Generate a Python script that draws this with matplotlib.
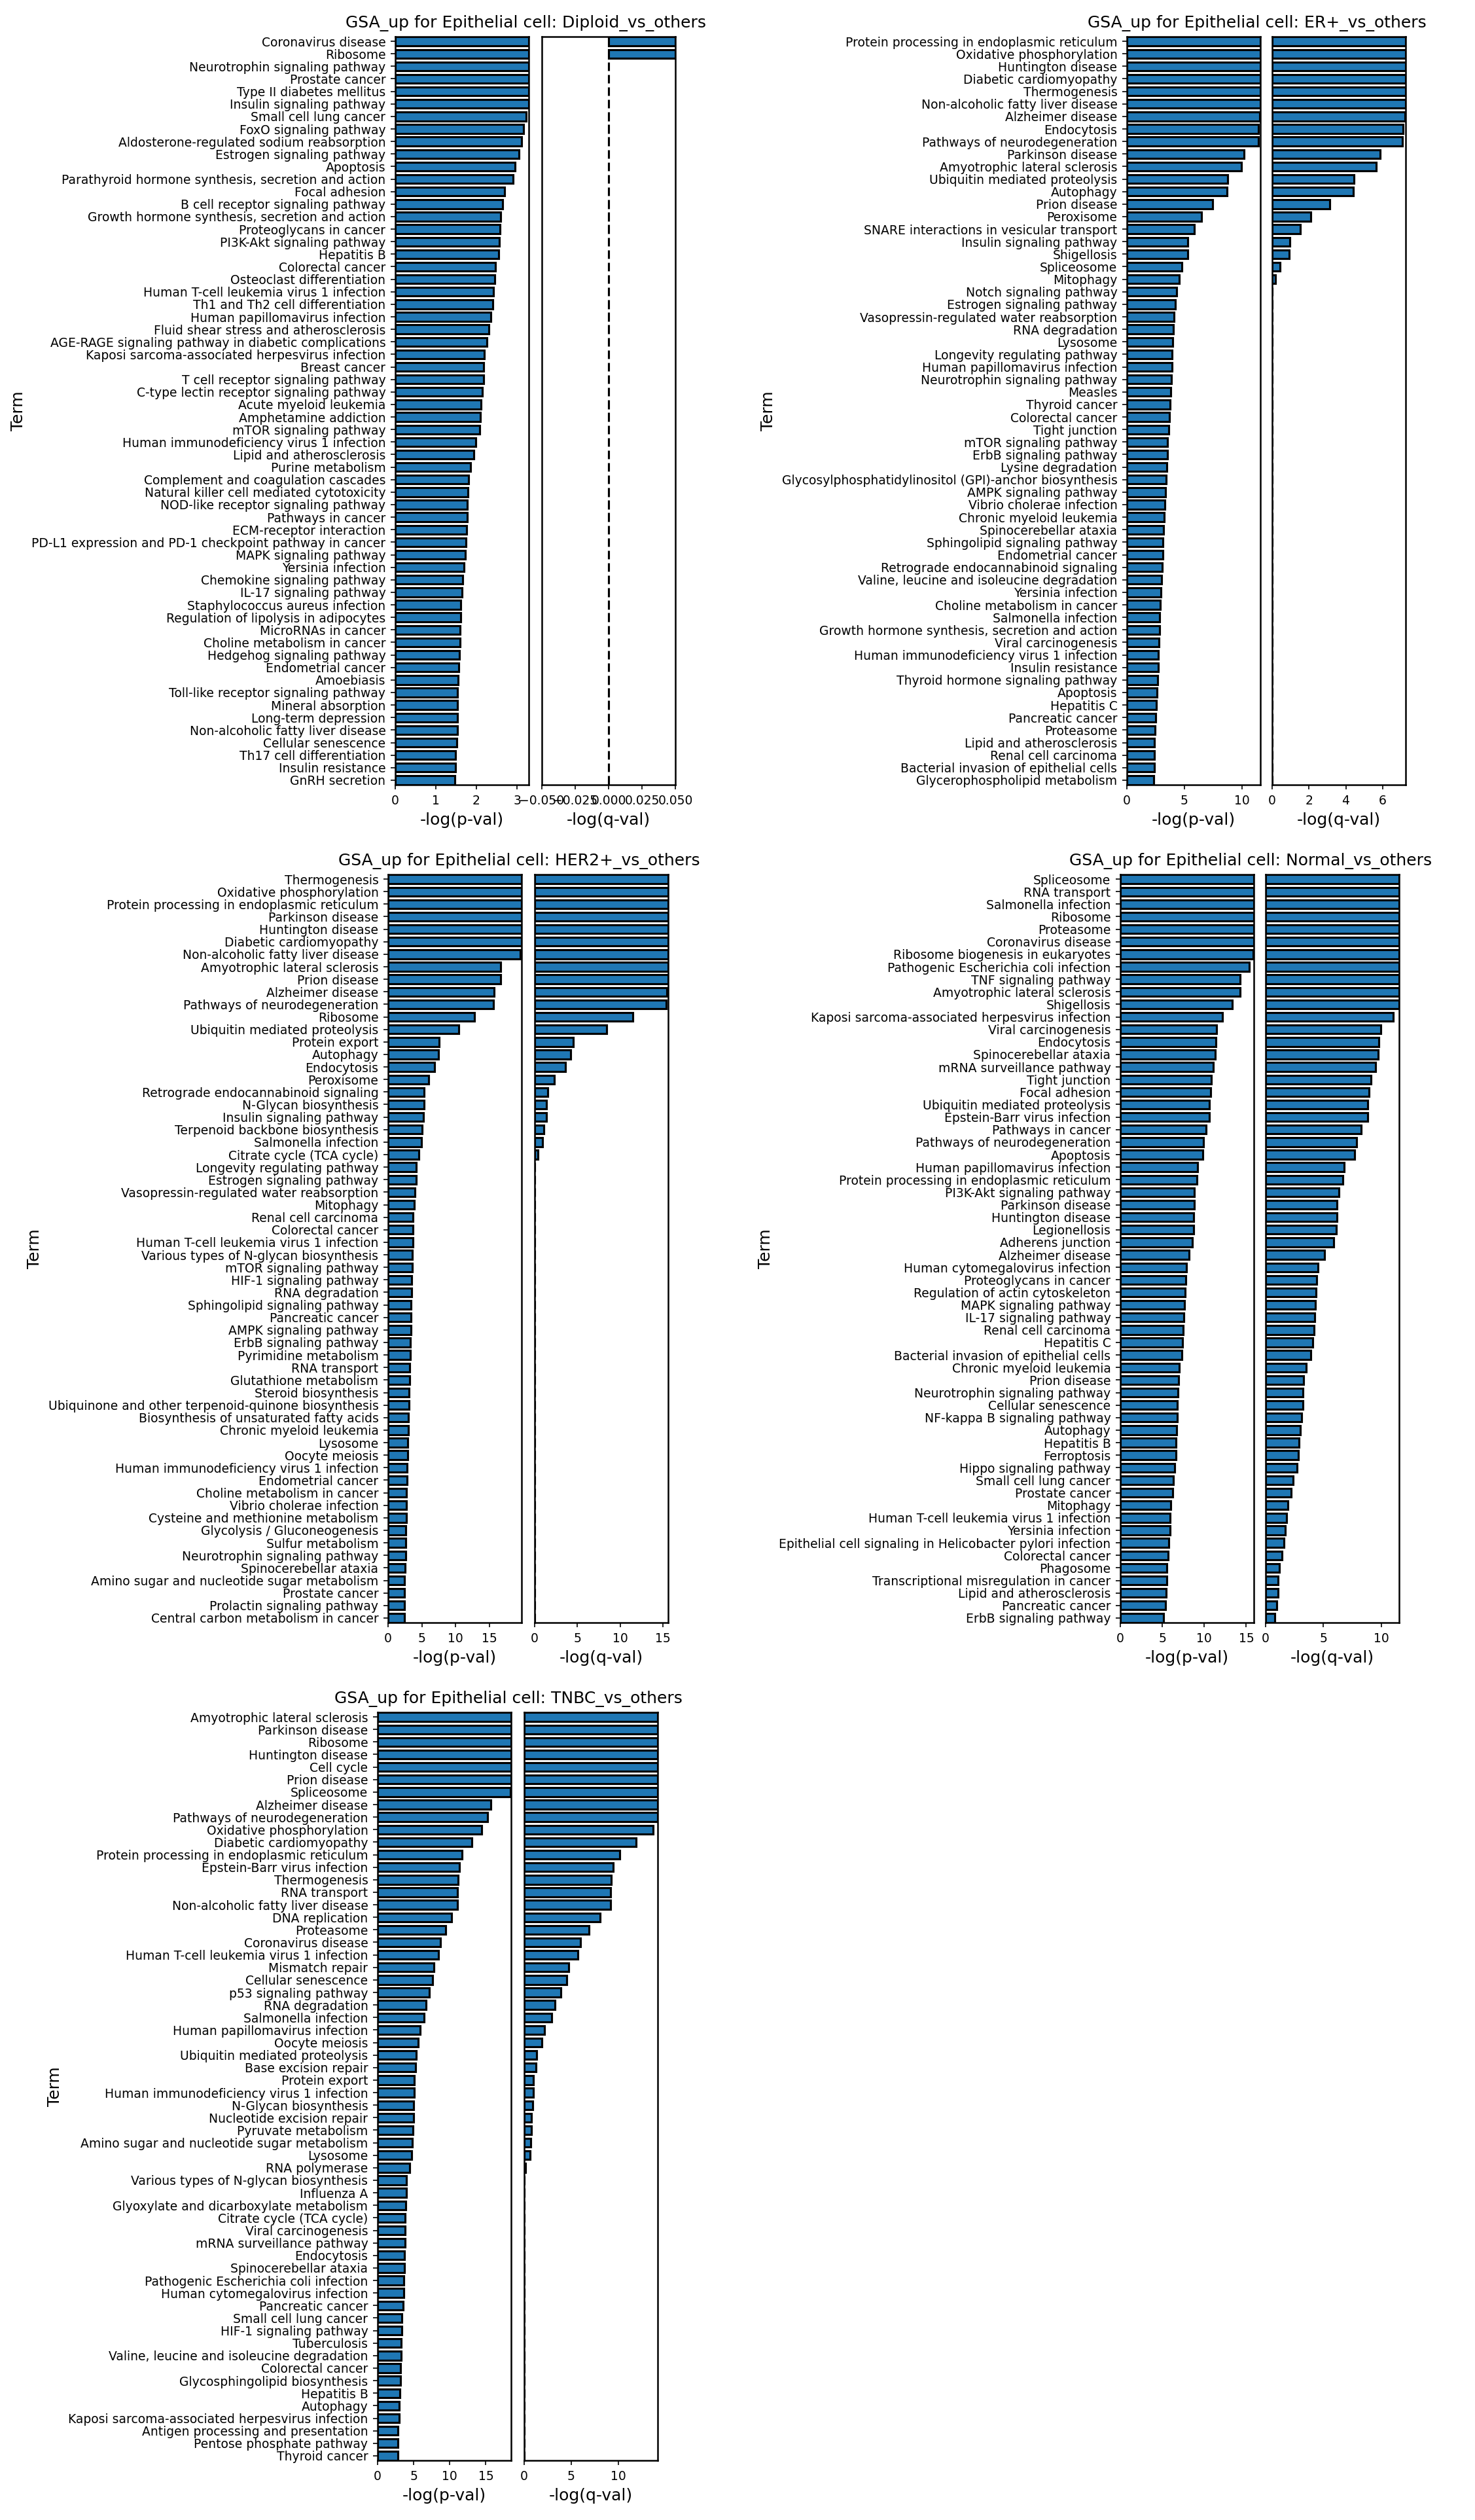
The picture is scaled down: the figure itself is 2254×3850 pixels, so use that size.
import matplotlib
matplotlib.use('Agg')
import matplotlib.pyplot as plt

W, H, DPI = 2254, 3850, 150

# ---------------- data ----------------
diploid_terms = [
    'Coronavirus disease', 'Ribosome', 'Neurotrophin signaling pathway', 'Prostate cancer',
    'Type II diabetes mellitus', 'Insulin signaling pathway', 'Small cell lung cancer',
    'FoxO signaling pathway', 'Aldosterone-regulated sodium reabsorption', 'Estrogen signaling pathway',
    'Apoptosis', 'Parathyroid hormone synthesis, secretion and action', 'Focal adhesion',
    'B cell receptor signaling pathway', 'Growth hormone synthesis, secretion and action',
    'Proteoglycans in cancer', 'PI3K-Akt signaling pathway', 'Hepatitis B', 'Colorectal cancer',
    'Osteoclast differentiation', 'Human T-cell leukemia virus 1 infection',
    'Th1 and Th2 cell differentiation', 'Human papillomavirus infection',
    'Fluid shear stress and atherosclerosis', 'AGE-RAGE signaling pathway in diabetic complications',
    'Kaposi sarcoma-associated herpesvirus infection', 'Breast cancer',
    'T cell receptor signaling pathway', 'C-type lectin receptor signaling pathway',
    'Acute myeloid leukemia', 'Amphetamine addiction', 'mTOR signaling pathway',
    'Human immunodeficiency virus 1 infection', 'Lipid and atherosclerosis', 'Purine metabolism',
    'Complement and coagulation cascades', 'Natural killer cell mediated cytotoxicity',
    'NOD-like receptor signaling pathway', 'Pathways in cancer', 'ECM-receptor interaction',
    'PD-L1 expression and PD-1 checkpoint pathway in cancer', 'MAPK signaling pathway',
    'Yersinia infection', 'Chemokine signaling pathway', 'IL-17 signaling pathway',
    'Staphylococcus aureus infection', 'Regulation of lipolysis in adipocytes', 'MicroRNAs in cancer',
    'Choline metabolism in cancer', 'Hedgehog signaling pathway', 'Endometrial cancer', 'Amoebiasis',
    'Toll-like receptor signaling pathway', 'Mineral absorption', 'Long-term depression',
    'Non-alcoholic fatty liver disease', 'Cellular senescence', 'Th17 cell differentiation',
    'Insulin resistance', 'GnRH secretion']
diploid_p = [3.29, 3.29, 3.29, 3.29, 3.29, 3.29, 3.23, 3.16, 3.12, 3.05,
             2.95, 2.91, 2.69, 2.65, 2.6, 2.58, 2.56, 2.55, 2.47, 2.45,
             2.42, 2.4, 2.35, 2.3, 2.25, 2.2, 2.18, 2.17, 2.15, 2.12,
             2.1, 2.08, 1.98, 1.93, 1.85, 1.8, 1.79, 1.78, 1.77, 1.76,
             1.74, 1.72, 1.7, 1.66, 1.64, 1.62, 1.61, 1.6, 1.59, 1.58,
             1.56, 1.55, 1.54, 1.54, 1.53, 1.53, 1.51, 1.49, 1.48, 1.46]
diploid_q = [0.05, 0.05] + [0.0] * 58

er_terms = [
    'Protein processing in endoplasmic reticulum', 'Oxidative phosphorylation', 'Huntington disease',
    'Diabetic cardiomyopathy', 'Thermogenesis', 'Non-alcoholic fatty liver disease', 'Alzheimer disease',
    'Endocytosis', 'Pathways of neurodegeneration', 'Parkinson disease', 'Amyotrophic lateral sclerosis',
    'Ubiquitin mediated proteolysis', 'Autophagy', 'Prion disease', 'Peroxisome',
    'SNARE interactions in vesicular transport', 'Insulin signaling pathway', 'Shigellosis',
    'Spliceosome', 'Mitophagy', 'Notch signaling pathway', 'Estrogen signaling pathway',
    'Vasopressin-regulated water reabsorption', 'RNA degradation', 'Lysosome',
    'Longevity regulating pathway', 'Human papillomavirus infection', 'Neurotrophin signaling pathway',
    'Measles', 'Thyroid cancer', 'Colorectal cancer', 'Tight junction', 'mTOR signaling pathway',
    'ErbB signaling pathway', 'Lysine degradation',
    'Glycosylphosphatidylinositol (GPI)-anchor biosynthesis', 'AMPK signaling pathway',
    'Vibrio cholerae infection', 'Chronic myeloid leukemia', 'Spinocerebellar ataxia',
    'Sphingolipid signaling pathway', 'Endometrial cancer', 'Retrograde endocannabinoid signaling',
    'Valine, leucine and isoleucine degradation', 'Yersinia infection', 'Choline metabolism in cancer',
    'Salmonella infection', 'Growth hormone synthesis, secretion and action', 'Viral carcinogenesis',
    'Human immunodeficiency virus 1 infection', 'Insulin resistance',
    'Thyroid hormone signaling pathway', 'Apoptosis', 'Hepatitis C', 'Pancreatic cancer',
    'Proteasome', 'Lipid and atherosclerosis', 'Renal cell carcinoma',
    'Bacterial invasion of epithelial cells', 'Glycerophospholipid metabolism']
er_p = [11.6, 11.6, 11.6, 11.6, 11.6, 11.6, 11.57, 11.44, 11.44, 10.15,
        9.96, 8.77, 8.72, 7.47, 6.48, 5.86, 5.29, 5.28, 4.79, 4.54,
        4.33, 4.18, 4.12, 4.04, 4.0, 3.95, 3.9, 3.85, 3.8, 3.78,
        3.7, 3.65, 3.55, 3.5, 3.45, 3.4, 3.35, 3.3, 3.25, 3.2,
        3.15, 3.1, 3.05, 3.0, 2.95, 2.9, 2.85, 2.82, 2.8, 2.75,
        2.72, 2.68, 2.62, 2.55, 2.5, 2.45, 2.4, 2.37, 2.37, 2.31]
er_q = [7.25, 7.25, 7.25, 7.25, 7.25, 7.25, 7.22, 7.1, 7.08, 5.87,
        5.65, 4.46, 4.42, 3.14, 2.11, 1.53, 0.95, 0.93, 0.42, 0.17] + [0.0] * 40

her2_terms = [
    'Thermogenesis', 'Oxidative phosphorylation', 'Protein processing in endoplasmic reticulum',
    'Parkinson disease', 'Huntington disease', 'Diabetic cardiomyopathy',
    'Non-alcoholic fatty liver disease', 'Amyotrophic lateral sclerosis', 'Prion disease',
    'Alzheimer disease', 'Pathways of neurodegeneration', 'Ribosome', 'Ubiquitin mediated proteolysis',
    'Protein export', 'Autophagy', 'Endocytosis', 'Peroxisome', 'Retrograde endocannabinoid signaling',
    'N-Glycan biosynthesis', 'Insulin signaling pathway', 'Terpenoid backbone biosynthesis',
    'Salmonella infection', 'Citrate cycle (TCA cycle)', 'Longevity regulating pathway',
    'Estrogen signaling pathway', 'Vasopressin-regulated water reabsorption', 'Mitophagy',
    'Renal cell carcinoma', 'Colorectal cancer', 'Human T-cell leukemia virus 1 infection',
    'Various types of N-glycan biosynthesis', 'mTOR signaling pathway', 'HIF-1 signaling pathway',
    'RNA degradation', 'Sphingolipid signaling pathway', 'Pancreatic cancer', 'AMPK signaling pathway',
    'ErbB signaling pathway', 'Pyrimidine metabolism', 'RNA transport', 'Glutathione metabolism',
    'Steroid biosynthesis', 'Ubiquinone and other terpenoid-quinone biosynthesis',
    'Biosynthesis of unsaturated fatty acids', 'Chronic myeloid leukemia', 'Lysosome', 'Oocyte meiosis',
    'Human immunodeficiency virus 1 infection', 'Endometrial cancer', 'Choline metabolism in cancer',
    'Vibrio cholerae infection', 'Cysteine and methionine metabolism', 'Glycolysis / Gluconeogenesis',
    'Sulfur metabolism', 'Neurotrophin signaling pathway', 'Spinocerebellar ataxia',
    'Amino sugar and nucleotide sugar metabolism', 'Prostate cancer', 'Prolactin signaling pathway',
    'Central carbon metabolism in cancer']
her2_p = [19.8, 19.8, 19.8, 19.8, 19.8, 19.8, 19.57, 16.7, 16.7, 15.76,
          15.67, 12.79, 10.5, 7.6, 7.44, 6.93, 6.0, 5.37, 5.29, 5.2,
          5.06, 4.98, 4.55, 4.21, 4.13, 3.96, 3.88, 3.7, 3.7, 3.65,
          3.6, 3.55, 3.5, 3.45, 3.42, 3.38, 3.35, 3.32, 3.3, 3.25,
          3.2, 3.15, 3.1, 3.05, 3.0, 2.95, 2.9, 2.85, 2.8, 2.75,
          2.72, 2.68, 2.65, 2.6, 2.58, 2.56, 2.47, 2.47, 2.47, 2.47]
her2_q = [15.6] * 9 + [15.48, 15.39, 11.48, 8.43, 4.48, 4.21, 3.59, 2.33, 1.52, 1.34, 1.34,
                       1.08, 0.9, 0.36] + [0.0] * 37

normal_terms = [
    'Spliceosome', 'RNA transport', 'Salmonella infection', 'Ribosome', 'Proteasome',
    'Coronavirus disease', 'Ribosome biogenesis in eukaryotes', 'Pathogenic Escherichia coli infection',
    'TNF signaling pathway', 'Amyotrophic lateral sclerosis', 'Shigellosis',
    'Kaposi sarcoma-associated herpesvirus infection', 'Viral carcinogenesis', 'Endocytosis',
    'Spinocerebellar ataxia', 'mRNA surveillance pathway', 'Tight junction', 'Focal adhesion',
    'Ubiquitin mediated proteolysis', 'Epstein-Barr virus infection', 'Pathways in cancer',
    'Pathways of neurodegeneration', 'Apoptosis', 'Human papillomavirus infection',
    'Protein processing in endoplasmic reticulum', 'PI3K-Akt signaling pathway', 'Parkinson disease',
    'Huntington disease', 'Legionellosis', 'Adherens junction', 'Alzheimer disease',
    'Human cytomegalovirus infection', 'Proteoglycans in cancer', 'Regulation of actin cytoskeleton',
    'MAPK signaling pathway', 'IL-17 signaling pathway', 'Renal cell carcinoma', 'Hepatitis C',
    'Bacterial invasion of epithelial cells', 'Chronic myeloid leukemia', 'Prion disease',
    'Neurotrophin signaling pathway', 'Cellular senescence', 'NF-kappa B signaling pathway',
    'Autophagy', 'Hepatitis B', 'Ferroptosis', 'Hippo signaling pathway', 'Small cell lung cancer',
    'Prostate cancer', 'Mitophagy', 'Human T-cell leukemia virus 1 infection', 'Yersinia infection',
    'Epithelial cell signaling in Helicobacter pylori infection', 'Colorectal cancer', 'Phagosome',
    'Transcriptional misregulation in cancer', 'Lipid and atherosclerosis', 'Pancreatic cancer',
    'ErbB signaling pathway']
normal_p = [15.9, 15.9, 15.9, 15.9, 15.9, 15.9, 15.84, 15.32, 14.3, 14.3,
            13.34, 12.18, 11.43, 11.36, 11.3, 11.09, 10.82, 10.75, 10.61, 10.61,
            10.2, 9.93, 9.8, 9.18, 9.11, 8.84, 8.77, 8.7, 8.7, 8.6,
            8.2, 7.9, 7.8, 7.7, 7.6, 7.55, 7.5, 7.4, 7.3, 7.0,
            6.9, 6.85, 6.8, 6.75, 6.7, 6.65, 6.6, 6.5, 6.3, 6.2,
            6.0, 5.95, 5.9, 5.8, 5.7, 5.52, 5.52, 5.45, 5.37, 5.18]
normal_q = [11.54] * 11 + [11.05, 9.94, 9.8, 9.73, 9.52, 9.1, 8.96, 8.82, 8.82,
                           8.27, 7.85, 7.71, 6.8, 6.66, 6.32, 6.18, 6.18, 6.1, 5.9,
                           5.1, 4.5, 4.4, 4.35, 4.3, 4.25, 4.2, 4.1, 3.9, 3.5,
                           3.3, 3.25, 3.2, 3.1, 3.0, 2.9, 2.85, 2.7, 2.4, 2.2,
                           1.9, 1.8, 1.7, 1.6, 1.4, 1.18, 1.1, 1.06, 0.97, 0.82]

tnbc_terms = [
    'Amyotrophic lateral sclerosis', 'Parkinson disease', 'Ribosome', 'Huntington disease', 'Cell cycle',
    'Prion disease', 'Spliceosome', 'Alzheimer disease', 'Pathways of neurodegeneration',
    'Oxidative phosphorylation', 'Diabetic cardiomyopathy', 'Protein processing in endoplasmic reticulum',
    'Epstein-Barr virus infection', 'Thermogenesis', 'RNA transport', 'Non-alcoholic fatty liver disease',
    'DNA replication', 'Proteasome', 'Coronavirus disease', 'Human T-cell leukemia virus 1 infection',
    'Mismatch repair', 'Cellular senescence', 'p53 signaling pathway', 'RNA degradation',
    'Salmonella infection', 'Human papillomavirus infection', 'Oocyte meiosis',
    'Ubiquitin mediated proteolysis', 'Base excision repair', 'Protein export',
    'Human immunodeficiency virus 1 infection', 'N-Glycan biosynthesis', 'Nucleotide excision repair',
    'Pyruvate metabolism', 'Amino sugar and nucleotide sugar metabolism', 'Lysosome', 'RNA polymerase',
    'Various types of N-glycan biosynthesis', 'Influenza A', 'Glyoxylate and dicarboxylate metabolism',
    'Citrate cycle (TCA cycle)', 'Viral carcinogenesis', 'mRNA surveillance pathway', 'Endocytosis',
    'Spinocerebellar ataxia', 'Pathogenic Escherichia coli infection', 'Human cytomegalovirus infection',
    'Pancreatic cancer', 'Small cell lung cancer', 'HIF-1 signaling pathway', 'Tuberculosis',
    'Valine, leucine and isoleucine degradation', 'Colorectal cancer', 'Glycosphingolipid biosynthesis',
    'Hepatitis B', 'Autophagy', 'Kaposi sarcoma-associated herpesvirus infection',
    'Antigen processing and presentation', 'Pentose phosphate pathway', 'Thyroid cancer']
tnbc_p = [18.5, 18.5, 18.5, 18.5, 18.5, 18.5, 18.42, 15.67, 15.27, 14.4,
          13.05, 11.7, 11.31, 11.15, 11.07, 11.07, 10.28, 9.41, 8.69, 8.46,
          7.82, 7.66, 7.19, 6.71, 6.47, 5.92, 5.66, 5.36, 5.29, 5.1,
          5.05, 5.0, 4.95, 4.9, 4.85, 4.7, 4.4, 4.0, 3.95, 3.9,
          3.85, 3.85, 3.8, 3.75, 3.7, 3.65, 3.6, 3.5, 3.4, 3.35,
          3.3, 3.25, 3.2, 3.15, 3.06, 2.97, 2.97, 2.82, 2.82, 2.82]
tnbc_q = [14.2] * 9 + [13.7, 11.88, 10.15, 9.48, 9.29, 9.21, 9.21, 8.08, 6.92, 5.98, 5.68,
                       4.74, 4.49, 3.91, 3.25, 2.92, 2.18, 1.85, 1.35, 1.27, 1.0,
                       0.95, 0.9, 0.8, 0.75, 0.7, 0.6, 0.15] + [0.0] * 23

# name, terms, p, q, p xlim, q xlim, p ticks, q ticks, pixel box (p_left, q_left, top)
panels = [
    ('Diploid_vs_others', diploid_terms, diploid_p, diploid_q, (0, 3.29), (-0.05, 0.05),
     [0, 1, 2, 3], [-0.05, -0.025, 0, 0.025, 0.05], (604, 828, 56)),
    ('ER+_vs_others', er_terms, er_p, er_q, (0, 11.6), (0, 7.25),
     [0, 5, 10], [0, 2, 4, 6], (1722, 1944, 56)),
    ('HER2+_vs_others', her2_terms, her2_p, her2_q, (0, 19.8), (0, 15.6),
     [0, 5, 10, 15], [0, 5, 10, 15], (593, 817, 1336)),
    ('Normal_vs_others', normal_terms, normal_p, normal_q, (0, 15.9), (0, 11.54),
     [0, 5, 10, 15], [0, 5, 10], (1712, 1934, 1336)),
    ('TNBC_vs_others', tnbc_terms, tnbc_p, tnbc_q, (0, 18.5), (0, 14.2),
     [0, 5, 10, 15], [0, 5, 10], (577, 801, 2616)),
]

AX_W, AX_H = 204, 1143
BAR_H = 0.7

fig = plt.figure(figsize=(W / DPI, H / DPI), dpi=DPI)


def px_axes(left, top):
    return fig.add_axes([left / W, 1 - (top + AX_H) / H, AX_W / W, AX_H / H])


for name, terms, pv, qv, pl, ql, pt, qt, (pleft, qleft, top) in panels:
    n = len(terms)
    ypos = list(range(n))
    ax1 = px_axes(pleft, top)
    ax2 = px_axes(qleft, top)
    ax1.barh(ypos, pv, height=BAR_H, color='#1f77b4', edgecolor='black', linewidth=1.5)
    ax2.barh(ypos, qv, height=BAR_H, color='#1f77b4', edgecolor='black', linewidth=1.5)
    for ax, lim, ticks in ((ax1, pl, pt), (ax2, ql, qt)):
        ax.set_xticks(ticks)
        ax.set_xlim(*lim)
        ax.set_ylim(n - 1 + BAR_H / 2 + 0.02, -BAR_H / 2 - 0.02)
        ax.tick_params(labelsize=9)
        for s in ax.spines.values():
            s.set_linewidth(1.2)
    ax1.set_yticks(ypos)
    ax1.set_yticklabels(terms)
    ax1.set_ylabel('Term', fontsize=12)
    ax2.set_yticks([])
    ax1.set_xlabel('-log(p-val)', fontsize=12)
    ax2.set_xlabel('-log(q-val)', fontsize=12)
    cx = (pleft + qleft + AX_W) / 2 - 14
    fig.text(cx / W, 1 - (top - 21) / H, 'GSA_up for Epithelial cell: ' + name,
             ha='center', va='center', fontsize=12)

fig.savefig('out.png', dpi=DPI)
